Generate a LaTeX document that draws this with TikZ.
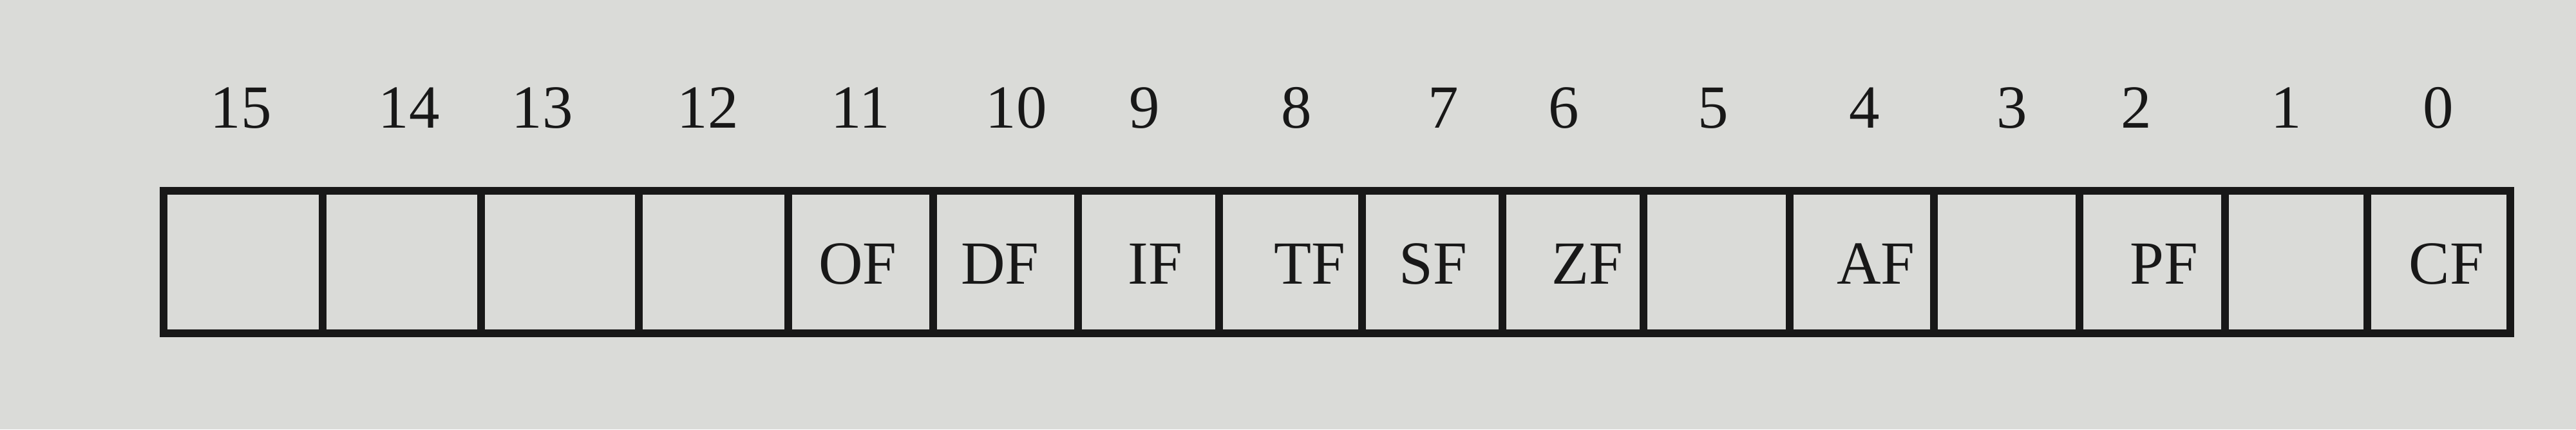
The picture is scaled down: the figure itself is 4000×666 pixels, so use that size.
\documentclass[tikz,border=0pt]{standalone}
\usepackage{fontspec}
\setmainfont{Liberation Serif}
\definecolor{paper}{RGB}{218,219,216}
\definecolor{ink}{RGB}{24,24,24}
\tikzset{
  cellbox/.style={draw=ink, line width=3.5pt},
  bitnum/.style={anchor=base, inner sep=0pt, text=ink, font=\fontsize{27}{30}\selectfont},
  flag/.style={anchor=base, inner sep=0pt, text=ink, font=\fontsize{27}{30}\selectfont},
}
\begin{document}
\begin{tikzpicture}[x=0.01cm, y=-0.01cm]
\fill[paper] (0,0) rectangle (4000,666);
\useasboundingbox (0,0) rectangle (4000,666);
% cells
\foreach \a/\b in {254/501,501/747,747/992,992/1224,1224/1449,1449/1674,1674/1893,1893/2115,2115/2333,2333/2552,2552/2779,2779/3003,3003/3229,3229/3455,3455/3676,3676/3898}
  \draw[cellbox] (\a,296) rectangle (\b,517);
% bit numbers
\node[bitnum] (n15) at (374,198) {15};
\node[bitnum] (n14) at (635,198) {14};
\node[bitnum] (n13) at (842,198) {13};
\node[bitnum] (n12) at (1099,198) {12};
\node[bitnum] (n11) at (1336,198) {11};
\node[bitnum] (n10) at (1578,198) {10};
\node[bitnum] (n9) at (1777,198) {9};
\node[bitnum] (n8) at (2013,198) {8};
\node[bitnum] (n7) at (2241,198) {7};
\node[bitnum] (n6) at (2428,198) {6};
\node[bitnum] (n5) at (2660,198) {5};
\node[bitnum] (n4) at (2895,198) {4};
\node[bitnum] (n3) at (3124,198) {3};
\node[bitnum] (n2) at (3317,198) {2};
\node[bitnum] (n1) at (3550,198) {1};
\node[bitnum] (n0) at (3786,198) {0};
% flags
\node[flag] (of) at (1332,440) {OF};
\node[flag] (df) at (1553,440) {DF};
\node[flag] (if) at (1794,440) {IF};
\node[flag] (tf) at (2034,440) {TF};
\node[flag] (sf) at (2225,440) {SF};
\node[flag] (zf) at (2465,440) {ZF};
\node[flag] (af) at (2913,440) {AF};
\node[flag] (pf) at (3360,440) {PF};
\node[flag] (cf) at (3799,440) {CF};
\end{tikzpicture}
\end{document}
